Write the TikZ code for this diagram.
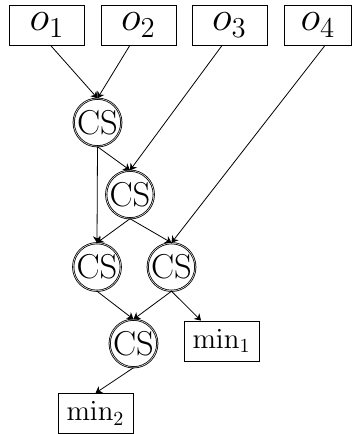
\documentclass[tikz,border=0pt]{standalone}
\usepackage{tikz}
\usetikzlibrary{arrows.meta}

\begin{document}
\begin{tikzpicture}[x=0.5pt, y=-0.5pt, >={Stealth[length=3.2pt, width=4pt, inset=1pt]},
    obox/.style={draw, minimum width=37.5pt, minimum height=20pt, inner sep=0pt, font=\fontsize{22}{26}\selectfont},
    minbox/.style={draw, minimum width=37.5pt, minimum height=20pt, inner sep=0pt, font=\Large},
    cs/.style={draw, double, double distance=0.25pt, circle, minimum size=22pt, inner sep=0pt, font=\LARGE}]
    \useasboundingbox (0,0) rectangle (352,434);

    % Inputs
    \node[obox] (o1) at (47,25) {$o_1$};
    \node[obox] (o2) at (138.5,25) {$o_2$};
    \node[obox] (o3) at (229.5,25) {$o_3$};
    \node[obox, minimum width=33.8pt] (o4) at (318,25) {$o_4$};

    % Compare-swap units
    \node[cs] (cs1) at (97.5,122.5) {CS};
    \node[cs] (cs2) at (130,194.5) {CS};
    \node[cs] (cs3) at (97,267) {CS};
    \node[cs] (cs4) at (171.5,267) {CS};
    \node[cs] (cs5) at (133.5,343.5) {CS};

    % Outputs
    \node[minbox] (min1) at (221.5,341) {$\min_1$};
    \node[minbox] (min2) at (95.5,413.5) {$\min_2$};

    % Wires
    \draw[->] (o1.-80) -- (cs1.north);
    \draw[->] (o2.-113) -- (cs1.north);
    \draw[->] (o3.-110) -- (cs2.north);
    \draw[->] (o4.-71) -- (cs4.north);
    \draw[->] (cs1.south) -- (cs2.north);
    \draw[->] (cs1.south) -- (cs3.north);
    \draw[->] (cs2.south) -- (cs3.north);
    \draw[->] (cs2.south) -- (cs4.north);
    \draw[->] (cs3.south) -- (cs5.north);
    \draw[->] (cs4.south) -- (cs5.north);
    \draw[->] (cs4.south) -- (min1);
    \draw[->] (cs5.south) -- (min2.north);
\end{tikzpicture}
\end{document}
